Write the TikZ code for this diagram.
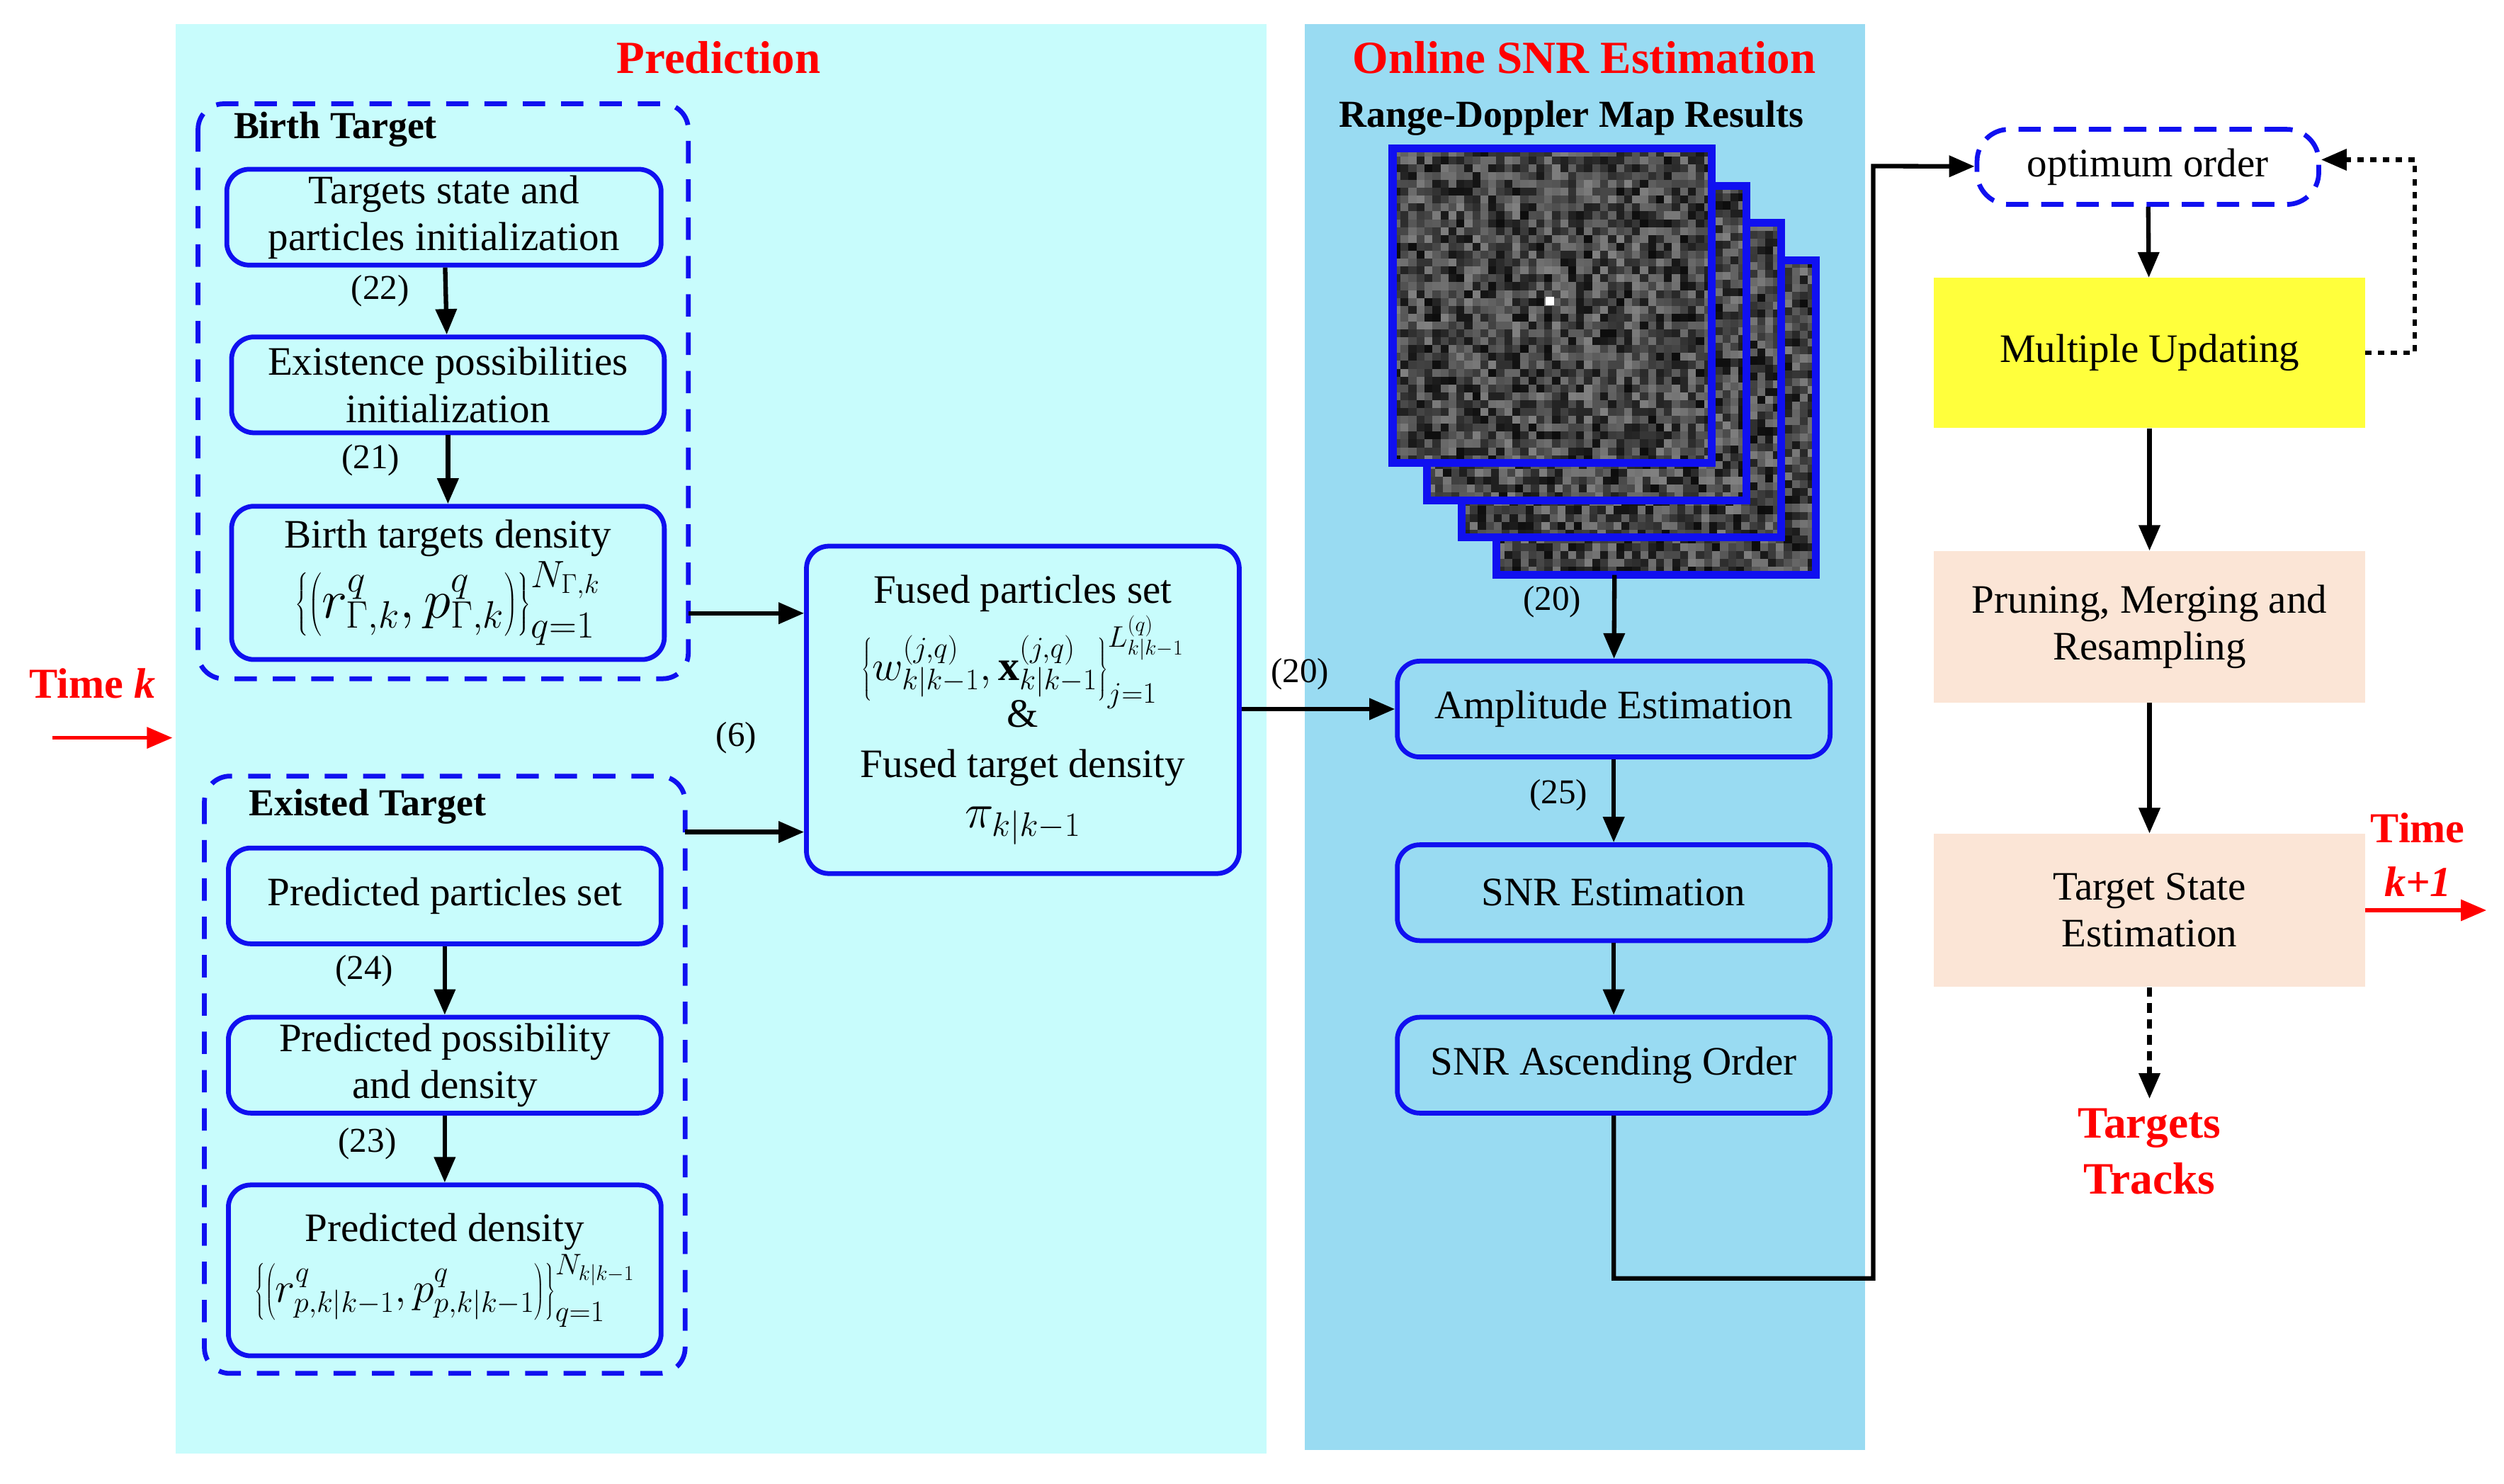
\RequirePackage{fix-cm}
\documentclass[tikz,border=0pt]{standalone}
\usepackage{fontspec}
\usepackage{graphicx}
\setmainfont{Liberation Serif}
\usetikzlibrary{arrows.meta}
\definecolor{predbg}{HTML}{C8FCFC}
\definecolor{snrbg}{HTML}{99DBF2}
\definecolor{peach}{HTML}{FBE5D6}
\definecolor{ylw}{HTML}{FFFF3C}
\definecolor{bblue}{HTML}{1010F0}
\begin{document}
\begin{tikzpicture}[x=0.5mm,y=-0.5mm,
  txt/.style={font=\fontsize{36}{42}\selectfont, align=center, inner sep=0pt},
  box/.style={txt, draw=bblue, line width=1.5mm, rounded corners=7mm, fill=predbg},
  grp/.style={draw=bblue, line width=1.5mm, dash pattern=on 7mm off 5mm, rounded corners=8mm},
  pbox/.style={txt, fill=peach, minimum width=135mm, minimum height=47.5mm},
  tip/.style={-{Triangle[length=8mm,width=6.5mm]}},
  arr/.style={line width=1.4mm, tip},
  lbl/.style={font=\fontsize{31}{34}\selectfont, inner sep=0pt},
  title/.style={font=\fontsize{41}{46}\selectfont\bfseries, text=red, inner sep=0pt},
  bold/.style={font=\fontsize{34}{38}\selectfont\bfseries, inner sep=0pt}]
\useasboundingbox (0,0) rectangle (1568,929);
\fill[predbg] (110,15) rectangle (793,910);
\fill[snrbg] (817,15) rectangle (1168,908);
\node[title] (tp) at (450,36) {Prediction};
\node[title] (ts) at (992,36) {Online SNR Estimation};
% groups
\draw[grp] (124,65) rectangle (431,425);
\draw[grp] (128,486) rectangle (429,860);
\node[bold] (bt) at (210,81) {Birth Target};
\node[bold] (et) at (230,505) {Existed Target};
% birth boxes
\node[box, minimum width=136mm, minimum height=30mm] (b1) at (278,136) {Targets state and\\particles initialization};
\node[box, minimum width=135.5mm, minimum height=30mm] (b2) at (280.5,241) {Existence possibilities\\initialization};
\node[box, minimum width=135.5mm, minimum height=48mm] (b3) at (280.5,365) {Birth targets density\\[1mm]\scalebox{1.35}{$\left\{\left(r^q_{\Gamma,k},p^q_{\Gamma,k}\right)\right\}_{q=1}^{N_{\Gamma,k}}$}};
\draw[arr] (b1) -- (b2);
\draw[arr] (b2) -- (b3);
\node[lbl] at (238,182) {(22)};
\node[lbl] at (232,288) {(21)};
% existed boxes
\node[box, minimum width=135.5mm, minimum height=30mm] (e1) at (278.5,561) {Predicted particles set};
\node[box, minimum width=135.5mm, minimum height=30mm] (e2) at (278.5,667) {Predicted possibility\\and density};
\node[box, minimum width=135.5mm, minimum height=53.5mm] (e3) at (278.5,795.5) {Predicted density\\[1mm]\scalebox{1.05}{$\left\{\left(r^q_{p,k|k-1},p^q_{p,k|k-1}\right)\right\}_{q=1}^{N_{k|k-1}}$}};
\draw[arr] (e1) -- (e2);
\draw[arr] (e2) -- (e3);
\node[lbl] at (228,608) {(24)};
\node[lbl] at (230,716) {(23)};
% fused
\node[box, minimum width=135.5mm, minimum height=102.5mm] (fu) at (640.5,444.5) {Fused particles set\\[1mm]\scalebox{1.05}{$\left\{w^{(j,q)}_{k|k-1},\mathbf{x}^{(j,q)}_{k|k-1}\right\}_{j=1}^{L^{(q)}_{k|k-1}}$}\\[-3mm]\&\\[1mm]Fused target density\\[1mm]\scalebox{1.2}{$\pi_{k|k-1}$}};
\coordinate (ga) at (431,384);
\coordinate (gb) at (429,521);
\draw[arr] (ga) -- (fu.west |- ga);
\draw[arr] (gb) -- (fu.west |- gb);
\node[lbl] at (461,462) {(6)};
% time k
\node[title, font=\fontsize{38}{42}\selectfont\bfseries] (tk) at (58,428) {Time \textit{k}};
\coordinate (tk0) at (33,462);
\coordinate (tk1) at (108,462);
\draw[red, line width=1.2mm, tip] (tk0) -- (tk1);
% range doppler
\node[bold] (rd) at (984,74) {Range-Doppler Map Results};
\pgfmathsetseed{7}
\foreach \k in {3,2,1,0}{
  \pgfmathsetmacro{\ox}{872+21.7*\k}
  \pgfmathsetmacro{\oy}{93+23.3*\k}
  \fill[black!88] (\ox,\oy) rectangle ++(200,197);
  \foreach \i in {0,...,39}{
    \foreach \j in {0,...,39}{
      \pgfmathrandominteger{\g}{50}{95}
      \fill[black!\g] (\ox+\i*5,\oy+\j*4.925) rectangle ++(5,4.925);
    }
  }
  \draw[bblue, line width=2.5mm] (\ox,\oy) rectangle ++(200,197);
}
\fill[white] (968,186) rectangle ++(5,5);
\coordinate (imb) at (1011,360);
\node[box, fill=none, minimum width=135.5mm, minimum height=30mm] (am) at (1010.5,444) {Amplitude Estimation};
\node[box, fill=none, minimum width=135.5mm, minimum height=30mm] (sn) at (1010.5,559) {SNR Estimation};
\node[box, fill=none, minimum width=135.5mm, minimum height=30mm] (as) at (1010.5,667) {SNR Ascending Order};
\draw[arr] (imb) -- (am);
\node[lbl] at (972,377) {(20)};
\draw[arr] (fu.east |- am) -- (am);
\node[lbl] at (814,422) {(20)};
\draw[arr] (am) -- (sn);
\node[lbl] at (976,498) {(25)};
\draw[arr] (sn) -- (as);
% right column
\node[txt, draw=bblue, line width=1.5mm, dash pattern=on 7mm off 4mm, rounded corners=10mm, minimum width=107mm, minimum height=23.5mm] (op) at (1345,104.5) {optimum order};
\node[txt, fill=ylw, minimum width=135mm, minimum height=47mm] (mu) at (1346,221) {Multiple Updating};
\node[pbox] (pr) at (1346,392.5) {Pruning, Merging and\\Resampling};
\node[pbox, minimum height=48mm] (te) at (1346,570) {Target State\\Estimation};
\draw[arr] (as.south) -- ++(0,102) -| (1173,104) -- (op);
\draw[arr] (op) -- (mu);
\draw[arr] (mu) -- (pr);
\draw[arr] (pr) -- (te);
\draw[line width=1.4mm, dash pattern=on 2mm off 2mm, tip] (mu.east) -- ++(31,0) |- (op.east |- 0,100);
\coordinate (tr) at (1346,688);
\draw[line width=1.4mm, dash pattern=on 3mm off 2mm, tip] (te) -- (tr);
\node[title, align=center, font=\fontsize{40}{50}\selectfont\bfseries] (tt) at (1346,721) {Targets\\Tracks};
\node[title, align=center, font=\fontsize{38}{48}\selectfont\bfseries] (tk2) at (1514,535) {Time\\\textit{k+1}};
\coordinate (tp1) at (1557,570);
\draw[red, line width=1.2mm, tip] (te.east) -- (tp1);
\end{tikzpicture}
\end{document}
